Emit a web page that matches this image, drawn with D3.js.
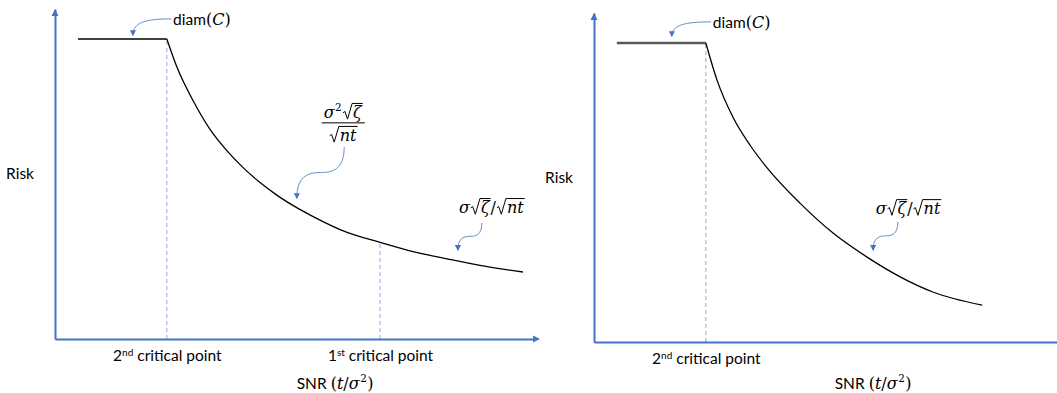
<!DOCTYPE html>
<html>
<head>
<meta charset="utf-8">
<script src="https://cdn.jsdelivr.net/npm/d3@7"></script>
<style>
  body { margin: 0; background: #fff; }
  svg { display: block; }
  .sans { font-family: Lato, "Open Sans", sans-serif; }
  .math { font-family: "DejaVu Serif", serif; font-style: italic; }
  .math-up { font-family: "DejaVu Serif", serif; }
</style>
</head>
<body>
<svg id="chart" width="1057" height="393"></svg>
<script>
// values, SNR and Risk both on a 0..10 scale
const leftFlatSNR = [0.48, 2.34];
const leftFlatRisk = [9.09, 9.09];
const leftCurveSNR = [2.34, 2.55, 2.89, 3.24, 3.60, 3.93, 4.29, 4.64, 5.13, 5.40, 6.11, 6.80, 7.49, 8.20, 8.89, 9.79];
const leftCurveRisk = [9.09, 8.24, 7.22, 6.36, 5.70, 5.20, 4.74, 4.36, 3.92, 3.71, 3.23, 2.93, 2.65, 2.43, 2.23, 2.03];
const leftCritSNR = [2.34, 6.80];
const leftCritRisk = [9.09, 2.93];
const leftCritLabels = [["2", "nd"], ["1", "st"]];

const rightFlatSNR = [0.49, 2.40];
const rightFlatRisk = [9.09, 9.09];
const rightCurveSNR = [2.40, 2.64, 2.98, 3.35, 3.71, 4.42, 5.13, 5.86, 6.57, 7.27, 8.33];
const rightCurveRisk = [9.09, 7.96, 6.84, 5.98, 5.30, 4.22, 3.31, 2.58, 1.98, 1.52, 1.12];
const rightCritSNR = [2.40];
const rightCritRisk = [9.09];
const rightCritLabels = [["2", "nd"]];

const blue = "#4472C4";
const dashBlue = "#8FAADC";
const sansSize = 15.5;
const svg = d3.select("#chart");

svg.append("defs").append("marker")
    .attr("id", "ah")
    .attr("viewBox", "0 0 10 10")
    .attr("refX", 8).attr("refY", 5)
    .attr("markerWidth", 6).attr("markerHeight", 6)
    .attr("markerUnits", "userSpaceOnUse")
    .attr("orient", "auto")
  .append("path")
    .attr("d", "M0,0L10,5L0,10z")
    .attr("fill", blue);

// lays out a row of math tokens from x, returns the end x
function layMath(g, tokens, x, size) {
  tokens.forEach(tk => {
    if (tk.sqrt) {
      const x0 = x + size * 0.62;
      const x1 = layMath(g, tk.sqrt, x0 + 1, size) + 1;
      const top = -size * 0.9;
      g.append("path")
          .attr("d", `M${x + size*0.05},${-size*0.32}L${x + size*0.17},${-size*0.4}L${x + size*0.33},${size*0.08}L${x0},${top}H${x1}`)
          .attr("fill", "none").attr("stroke", "#000").attr("stroke-width", 1);
      x = x1;
    } else if (tk.sup) {
      const t = g.append("text").attr("class", "math-up")
          .attr("x", x + 0.5).attr("y", -size * 0.42)
          .style("font-size", (size * 0.65) + "px").text(tk.sup);
      x += t.node().getComputedTextLength() + 1;
    } else {
      const t = g.append("text").attr("class", tk.cls || "math")
          .attr("x", x).attr("y", 0)
          .style("font-size", (tk.size || size) + "px").text(tk.t);
      x += t.node().getComputedTextLength() + (tk.gap || 0);
    }
  });
  return x;
}

// math row placed with its baseline at (cx, by), anchored "start" or "middle"
function mathLabel(parent, tokens, cx, by, size, anchor) {
  const g = parent.append("g");
  const w = layMath(g, tokens, 0, size);
  const dx = anchor === "middle" ? cx - w / 2 : cx;
  g.attr("transform", `translate(${dx},${by})`);
  return w;
}

function fracLabel(parent, num, den, cx, ly, size) {
  const g = parent.append("g");
  const gn = g.append("g"), gd = g.append("g");
  const wn = layMath(gn, num, 0, size);
  const wd = layMath(gd, den, 0, size);
  const w = Math.max(wn, wd) + 4;
  gn.attr("transform", `translate(${-wn/2},${-5})`);
  gd.attr("transform", `translate(${-wd/2},${size + 2})`);
  g.append("line").attr("x1", -w/2).attr("x2", w/2).attr("y1", 0).attr("y2", 0)
      .attr("stroke", "#000").attr("stroke-width", 1);
  g.attr("transform", `translate(${cx},${ly})`);
}

function arrowPath(type, s, t) {
  if (type === "hook") {
    return `M${s[0]},${s[1]}C${t[0] + (s[0]-t[0])*0.35},${s[1]} ${t[0]},${s[1] + (t[1]-s[1])*0.2} ${t[0]},${t[1]}`;
  }
  const mx = (s[0] + t[0]) / 2, my = (s[1] + t[1]) / 2;
  return `M${s[0]},${s[1]}C${s[0]},${s[1] + (my-s[1])*0.9} ${mx + (s[0]-mx)*0.5},${my} ${mx},${my}` +
         `C${mx - (mx-t[0])*0.6},${my} ${t[0]},${my + (t[1]-my)*0.2} ${t[0]},${t[1]}`;
}

const sigZetaOverNt = [
  { t: "σ" }, { sqrt: [{ t: "ζ" }] }, { t: "/", cls: "math-up" }, { sqrt: [{ t: "n" }, { t: "t" }] }
];
const diamTokens = [
  { t: "diam", cls: "sans", size: sansSize }, { t: "(", cls: "math-up" }, { t: "C" }, { t: ")", cls: "math-up" }
];
const snrTokens = [
  { t: "SNR", cls: "sans", size: sansSize, gap: 4 }, { t: "(", cls: "math-up" }, { t: "t" }, { t: "/", cls: "math-up" },
  { t: "σ" }, { sup: "2" }, { t: ")", cls: "math-up" }
];

const panels = [
  {
    xRange: [55, 533], yRange: [339, 9],
    flatSNR: leftFlatSNR, flatRisk: leftFlatRisk, flatColor: "#000", flatWidth: 1.6,
    curveSNR: leftCurveSNR, curveRisk: leftCurveRisk,
    critSNR: leftCritSNR, critRisk: leftCritRisk, critLabels: leftCritLabels,
    diamAt: [2.47, 9.51], snrAt: 5.86, snrDrop: 50,
    annots: [
      { type: "hook", from: [2.43, 9.70], to: [1.63, 9.21] },
      { type: "s", from: [6.05, 5.82], to: [5.06, 4.27] },
      { type: "s", from: [8.93, 3.52], to: [8.43, 2.70] }
    ],
    frac: [6.03, 6.55],
    sigAt: [9.14, 3.82]
  },
  {
    xRange: [594, 1060], yRange: [342, 13],
    flatSNR: rightFlatSNR, flatRisk: rightFlatRisk, flatColor: "#595959", flatWidth: 2.4,
    curveSNR: rightCurveSNR, curveRisk: rightCurveRisk,
    critSNR: rightCritSNR, critRisk: rightCritRisk, critLabels: rightCritLabels,
    diamAt: [2.55, 9.54], snrAt: 5.99, snrDrop: 47,
    annots: [
      { type: "hook", from: [2.51, 9.73], to: [1.67, 9.30] },
      { type: "s", from: [6.52, 3.65], to: [5.99, 2.80] }
    ],
    frac: null,
    sigAt: [6.75, 3.89]
  }
];

panels.forEach(p => {
  const x = d3.scaleLinear().domain([0, 10]).range(p.xRange);
  const y = d3.scaleLinear().domain([0, 10]).range(p.yRange);
  const g = svg.append("g");

  // dashed drop lines at the critical points
  g.selectAll("line.crit")
    .data(p.critSNR)
    .join("line")
      .attr("class", "crit")
      .attr("x1", d => x(d)).attr("x2", d => x(d))
      .attr("y1", y(0)).attr("y2", (d, i) => y(p.critRisk[i]))
      .attr("stroke", dashBlue).attr("stroke-width", 1)
      .attr("stroke-dasharray", "4 3");

  // axes
  const gx = g.append("g")
      .attr("transform", `translate(0,${y(0)})`)
      .call(d3.axisBottom(x).tickValues(p.critSNR).tickSize(0).tickSizeOuter(0).tickPadding(11))
      .attr("font-family", null).attr("font-size", null);
  gx.select(".domain").attr("stroke", blue).attr("stroke-width", 2);
  gx.selectAll(".tick text").each(function(d, i) {
    const t = d3.select(this).text(null).attr("class", "sans")
        .style("font-size", sansSize + "px").attr("fill", "#000");
    t.append("tspan").text(p.critLabels[i][0]);
    t.append("tspan").attr("dy", -5).style("font-size", "10px").text(p.critLabels[i][1]);
    t.append("tspan").attr("dy", 5).text(" critical point");
  });

  const gy = g.append("g")
      .attr("transform", `translate(${x(0)},0)`)
      .call(d3.axisLeft(y).tickValues([]).tickSizeOuter(0));
  gy.select(".domain").attr("stroke", blue).attr("stroke-width", 2);

  g.append("path")
      .attr("d", `M${x(10)},${y(0) - 3.5}L${x(10) + 7},${y(0)}L${x(10)},${y(0) + 3.5}z`)
      .attr("fill", blue);
  g.append("path")
      .attr("d", `M${x(0) - 3.5},${y(10) + 7}L${x(0)},${y(10)}L${x(0) + 3.5},${y(10) + 7}z`)
      .attr("fill", blue);

  // risk curve: flat cap, then decay
  const line = d3.line().x(d => x(d[0])).y(d => y(d[1]));
  g.append("path")
      .datum(d3.zip(p.flatSNR, p.flatRisk))
      .attr("d", line)
      .attr("fill", "none").attr("stroke", p.flatColor).attr("stroke-width", p.flatWidth);
  g.append("path")
      .datum(d3.zip(p.curveSNR, p.curveRisk))
      .attr("d", line.curve(d3.curveMonotoneX))
      .attr("fill", "none").attr("stroke", "#000").attr("stroke-width", 1.3);

  // labels
  g.append("text").attr("class", "sans")
      .attr("x", x(0) - 21).attr("y", y(5) + 5)
      .attr("text-anchor", "end").style("font-size", sansSize + "px")
      .text("Risk");
  mathLabel(g, snrTokens, x(p.snrAt), y(0) + p.snrDrop, 16, "middle");
  mathLabel(g, diamTokens, x(p.diamAt[0]), y(p.diamAt[1]), 16, "start");
  mathLabel(g, sigZetaOverNt, x(p.sigAt[0]), y(p.sigAt[1]), 16, "middle");
  if (p.frac) {
    fracLabel(g,
      [{ t: "σ" }, { sup: "2" }, { sqrt: [{ t: "ζ" }] }],
      [{ sqrt: [{ t: "n" }, { t: "t" }] }],
      x(p.frac[0]), y(p.frac[1]), 16);
  }

  // annotation arrows
  g.selectAll("path.annot")
    .data(p.annots)
    .join("path")
      .attr("class", "annot")
      .attr("d", a => arrowPath(a.type, [x(a.from[0]), y(a.from[1])], [x(a.to[0]), y(a.to[1])]))
      .attr("fill", "none").attr("stroke", blue).attr("stroke-width", 0.8)
      .attr("marker-end", "url(#ah)");
});
</script>
</body>
</html>
